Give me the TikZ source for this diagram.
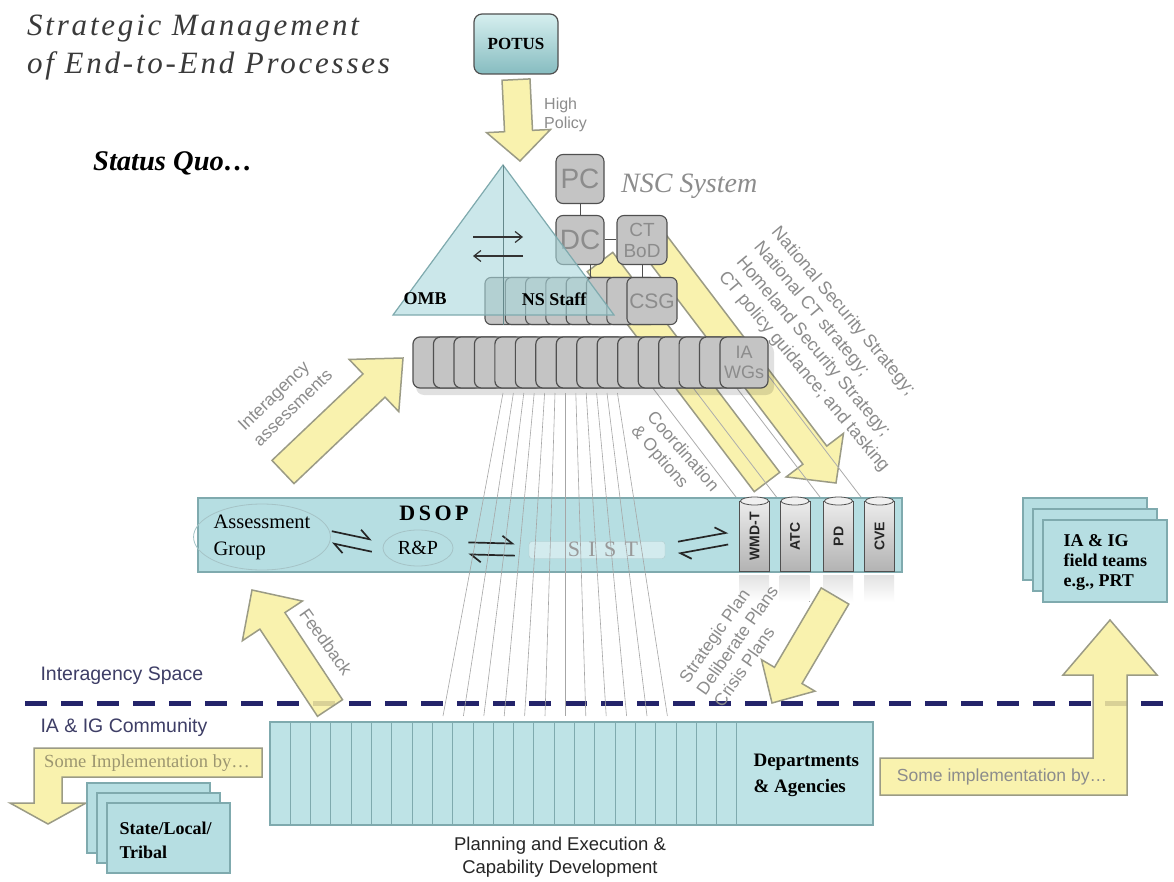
\documentclass[tikz,border=0pt]{standalone}
\usepackage{fontspec}
\setmainfont{Liberation Serif}
\setsansfont{Liberation Sans}
\usetikzlibrary{calc,arrows.meta,shapes.geometric}

\definecolor{tealfill}{HTML}{B6DEE2}
\definecolor{deptfill}{HTML}{BEE3E6}
\definecolor{trifill}{HTML}{A9D8DC}
\definecolor{tealline}{HTML}{7FAAAE}
\definecolor{boxgray}{HTML}{C4C4C4}
\definecolor{boxline}{HTML}{505050}
\definecolor{lblgray}{HTML}{8C8C8C}
\definecolor{ylw}{HTML}{F9F0A0}
\definecolor{ylwline}{HTML}{9B9B85}
\definecolor{navy}{HTML}{24246A}
\definecolor{spacetxt}{HTML}{3E3E66}
\definecolor{titlegray}{HTML}{3A3A3A}
\definecolor{olivetxt}{HTML}{9C9670}
\definecolor{potustop}{HTML}{D6EFEF}
\definecolor{potusbot}{HTML}{86BCC0}

\def\fsz#1#2{\fontsize{#1}{#2}\selectfont}
% block arrow: from, to, shaft half width, head half width, head length
\def\blockarrow#1#2#3#4#5{%
  \coordinate (hd) at ($(#2)!#5!(#1)$);
  \filldraw[yarrow] ($(#1)!#3!90:(#2)$) -- ($(hd)!#3!90:(#2)$) -- ($(hd)!#4!90:(#2)$)
    -- (#2) -- ($(hd)!#4!-90:(#2)$) -- ($(hd)!#3!-90:(#2)$) -- ($(#1)!#3!-90:(#2)$) -- cycle;}
% flat band: from, to, half width
\def\yband#1#2#3{%
  \filldraw[yarrow] ($(#1)!#3!90:(#2)$) -- ($(#2)!#3!-90:(#1)$)
    -- ($(#2)!#3!90:(#1)$) -- ($(#1)!#3!-90:(#2)$) -- cycle;}

\tikzset{
  yarrow/.style={fill=ylw, draw=ylwline, line width=1.5pt, fill opacity=.85},
  iadash/.style={draw=navy, line width=5pt, dash pattern=on 22pt off 14pt},
  titletxt/.style={font=\itshape\fsz{31}{34}\addfontfeature{LetterSpace=9}, text=titlegray, inner sep=0},
  potusbox/.style={rounded corners=8pt, top color=potustop, bottom color=potusbot, draw=boxline,
    line width=1.2pt, minimum width=84pt, minimum height=60pt, font=\bfseries\fsz{17}{17}},
  sanslbl/.style={font=\sffamily\fsz{17.5}{21}, text=lblgray},
  boldlbl/.style={font=\bfseries\fsz{18}{24}},
  nsbox/.style={rounded corners=6pt, fill=boxgray, draw=boxline, line width=1.1pt,
    minimum width=50pt, minimum height=47pt, inner sep=0},
  nscbox/.style={rounded corners=7pt, fill=boxgray, draw=boxline, line width=1.1pt,
    minimum width=48pt, minimum height=49pt, inner sep=0, font=\sffamily\fsz{28}{28}, text=lblgray},
  wgbox/.style={rounded corners=7pt, fill=boxgray, draw=boxline, line width=1.2pt,
    minimum width=48pt, minimum height=51pt, inner sep=0},
  ombtri/.style={fill=trifill, fill opacity=.6, draw=tealline, line width=1.2pt},
  swap/.style={draw=black!80, line width=1.2pt, -{Straight Barb[length=7pt,width=11pt]}},
  harp/.style={draw=black!85, line width=1.7pt, -{Straight Barb[left,length=10pt,width=15pt]}},
  dsopbar/.style={fill=tealfill, draw=tealline, line width=1.3pt, minimum width=704pt,
    minimum height=74pt, inner sep=0},
  agell/.style={ellipse, draw=tealline!70, line width=.8pt, minimum width=118pt,
    minimum height=66pt, inner sep=0, font=\fsz{20.5}{27}},
  rpell/.style={ellipse, draw=tealline!70, line width=.8pt, minimum width=70pt,
    minimum height=36pt, inner sep=0, font=\fsz{20}{20}},
  sistbox/.style={rounded corners=3pt, draw=tealline!60, fill=tealfill!60!white,
    minimum width=136pt, minimum height=17pt, inner sep=0},
  pillar/.style={draw=boxline, top color=gray!15, bottom color=gray!60, line width=1pt,
    minimum width=30pt, minimum height=70pt, inner sep=0,
    font=\sffamily\bfseries\fsz{14}{14}, text=black!85},
  pillartop/.style={draw=boxline, fill=gray!12, line width=.8pt},
  mirror/.style={top color=gray!22, bottom color=white},
  pline/.style={draw=gray!65, line width=.8pt},
  fanline/.style={draw=gray!70, line width=.6pt},
  deptbox/.style={fill=deptfill, draw=tealline, line width=1.3pt, minimum width=603pt,
    minimum height=103pt, inner sep=0},
  deptline/.style={draw=tealline, line width=1pt},
  stackbox/.style={fill=tealfill, draw=tealline, line width=1.3pt, minimum width=124pt,
    minimum height=82pt, inner sep=0},
  spacelbl/.style={font=\sffamily\fsz{19.5}{19.5}, text=spacetxt},
}

\begin{document}
\begin{tikzpicture}[x=1pt,y=-1pt]
\fill[white] (0,0) rectangle (1174,882);
\useasboundingbox (0,0) rectangle (1174,882);

% interagency space / community divide
\coordinate (dashl) at (25,703);
\coordinate (dashr) at (1174,703);
\draw[iadash] (dashl) -- (dashr);

% headings
\node[titletxt, anchor=base west] (title1) at (27,36) {Strategic Management};
\node[titletxt, anchor=base west] (title2) at (27,74) {of End-to-End Processes};
\node[font=\bfseries\itshape\fsz{28.5}{32}, anchor=base west, inner sep=0] (status) at (93,171) {Status Quo…};

% POTUS
\node[potusbox] (potus) at (516,44) {POTUS};
\coordinate (hpa) at ([yshift=-5pt]potus.south);
\coordinate (hpb) at (520,161);
\blockarrow{hpa}{hpb}{14pt}{32pt}{30pt}
\node[sanslbl, font=\sffamily\fsz{16}{19}, align=left, anchor=west, inner sep=0] (hplbl) at (544,115) {High\\Policy};

% flows behind the NSC boxes
\coordinate (cooa) at (600,262);
\coordinate (coob) at (767,482);
\yband{cooa}{coob}{16pt}
\coordinate (nssa) at (649,237);
\coordinate (nssb) at (836,483);
\blockarrow{nssa}{nssb}{15pt}{36pt}{35pt}

\coordinate (wmd-tl) at (739,501);
\coordinate (atc-tl) at (779.5,501);
\coordinate (pd-tl) at (823,501);
\coordinate (cve-tl) at (864,501);
\coordinate (pl1) at (639,370);
\coordinate (pl2) at (679.5,370);
\coordinate (pl3) at (723,370);
\coordinate (pl4) at (764,370);
\foreach \a/\b in {pl1/wmd-tl, pl2/atc-tl, pl3/pd-tl, pl4/cve-tl}
  \draw[pline] (\a) -- (\b);

% NSC system
\foreach \i in {0,...,6}
  \node[nsbox] (ns\i) at (510+20.3*\i,301) {};
\node[nsbox, font=\sffamily\fsz{21}{21}, text=lblgray] (csg) at (652,301) {CSG};
\node[nscbox] (pc) at (580,179) {PC};
\node[nscbox] (dc) at (580,240) {DC};
\node[nscbox, font=\sffamily\fsz{19}{21}, align=center, minimum width=50pt] (ctbod) at (642,240) {CT\\BoD};
\draw[boxline, line width=1pt] (pc) -- (dc);
\draw[boxline, line width=1pt] (dc) -- (ctbod);
\draw[boxline, line width=1pt] (ctbod.south) -- (ctbod.south |- csg.north);
\coordinate (dcfoot) at ([xshift=10pt]dc.south);
\draw[boxline, line width=1pt] (dcfoot) -- (dcfoot |- ns0.north);
\node[font=\itshape\fsz{28}{30}, text=lblgray, anchor=west, inner sep=0] (nsc) at (621,186) {NSC System};

% OMB triangle
\coordinate (omba) at (503,165);
\coordinate (ombl) at (393,315);
\coordinate (ombr) at (614,315);
\coordinate (ombfoot) at (503,325);
\filldraw[ombtri] (omba) -- (ombl) -- (ombr) -- cycle;
\draw[tealline!80!black, line width=1pt] (omba) -- (ombfoot);
\coordinate (swl) at (473,237);
\coordinate (swr) at (523,237);
\draw[swap] (swl) -- (swr);
\draw[swap] ([yshift=-19pt]swr) -- ([yshift=-19pt]swl);
\node[boldlbl] (omb) at (425,299) {OMB};
\node[boldlbl] (nsstaff) at (554,299) {NS Staff};

% IA WGs
\fill[black, opacity=.12, rounded corners=8pt] (416,344) rectangle (774,395);
\foreach \i in {0,...,14}
  \node[wgbox] (wg\i) at (437+20.47*\i,362.5) {};
\node[wgbox, font=\sffamily\fsz{18}{20}, text=lblgray, align=center] (iawg) at (744,362.5) {IA\\WGs};

% interagency assessments
\coordinate (iaa) at (283,472);
\coordinate (iab) at (403,358);
\blockarrow{iaa}{iab}{16pt}{36pt}{40pt}
\node[sanslbl, font=\sffamily\fsz{17.5}{22}, rotate=44, align=left] (ialbl) at (285,400) {Interagency\\assessments};

% DSOP
\node[dsopbar] (dsop) at (550,535) {};
\node[agell, align=left] (ag) at (262,537) {Assessment\\Group};
\node[font=\bfseries\fsz{22}{22}\addfontfeature{LetterSpace=16}] (dsoplbl) at (434,513) {DSOP};
\node[rpell] (rp) at (418,548) {R\&P};
\node[sistbox] (sist) at (597,550) {};
\node[font=\fsz{22}{22}\addfontfeature{LetterSpace=38}, text=gray!80] (sistlbl) at (603,549) {SIST};
\foreach \p/\t in {wmd/WMD-T, atc/ATC, pd/PD, cve/CVE} {
  \fill[mirror] ([yshift=-3pt]\p-tl |- dsop.south) rectangle ++(30,26);
  \node[pillar, anchor=north west] (\p) at (\p-tl) {\rotatebox{90}{\t}};
  \draw[pillartop] (\p.north) ellipse [x radius=14pt, y radius=4pt];
}
\draw[harp, shorten <=1pt, shorten >=11pt] ([yshift=6pt]ag.east) -- ([yshift=6pt]rp.west);
\draw[harp, shorten <=11pt, shorten >=1pt] ([yshift=-6pt]rp.west) -- ([yshift=-6pt]ag.east);
\draw[harp, shorten <=15pt, shorten >=14pt] ([yshift=6pt]rp.east) -- ([yshift=6pt]sist.west);
\draw[harp, shorten <=14pt, shorten >=15pt] ([yshift=-6pt]sist.west) -- ([yshift=-6pt]rp.east);
\draw[harp, shorten <=13pt, shorten >=11pt] ([yshift=6pt]sist.east) -- ([yshift=6pt]wmd.west);
\draw[harp, shorten <=11pt, shorten >=13pt] ([yshift=-6pt]wmd.west) -- ([yshift=-6pt]sist.east);

% IA WGs to departments
\foreach \i in {0,...,11} {
  \coordinate (ft\i) at (503+10.4*\i,393);
  \coordinate (fb\i) at (443+20.4*\i,716);
  \draw[fanline] (ft\i) -- (fb\i);
}

% guidance texts
\node[sanslbl, rotate=-49, anchor=north west, align=left, inner sep=0] (coolbl) at (656,409) {Coordination\\\& Options};
\node[sanslbl, font=\sffamily\fsz{18}{23}, rotate=-50, anchor=north west, align=left, inner sep=0] (nsslbl) at (781,224)
  {National Security Strategy;\\National CT strategy;\\Homeland Security Strategy;\\CT policy guidance; and tasking};

% feedback and plans
\coordinate (fba) at (330,708);
\coordinate (fbb) at (252,590);
\blockarrow{fba}{fbb}{15pt}{36pt}{37pt}
\node[sanslbl, rotate=-54.5] (fblbl) at (326,642) {Feedback};
\coordinate (spa) at (835,596);
\coordinate (spb) at (772,703);
\blockarrow{spa}{spb}{16pt}{31pt}{32pt}
\node[sanslbl, rotate=55, align=left] (splbl) at (737,640) {Strategic Plan\\Deliberate Plans\\Crisis Plans};

% departments and agencies
\node[deptbox] (dept) at (571.5,773.5) {};
\foreach \i in {1,...,23}
  \draw[deptline] (270+20.3*\i,722) -- (270+20.3*\i,825);
\node[boldlbl, align=left, anchor=west, font=\bfseries\fsz{19}{26}] (deptlbl) at (750,775) {Departments\\\& Agencies};
\node[font=\sffamily\fsz{18.5}{23}, align=center, text=black!85] (plan) at (560,857) {Planning and Execution \&\\Capability Development};

% field teams
\filldraw[yarrow] (880,758) -- (1093,758) -- (1093,675) -- (1063,675) -- (1110,620) -- (1157,675)
  -- (1127,675) -- (1127,795) -- (880,795) -- cycle;
\node[sanslbl] (rimpl) at (1002,777) {Some implementation by…};
\node[stackbox] (fteam1) at (1085,539) {};
\node[stackbox] (fteam2) at (1095,550) {};
\node[stackbox] (fteam3) at (1105,561) {};
\node[boldlbl, align=left, anchor=west, font=\bfseries\fsz{18}{20}] (fteamlbl) at (1060,562) {IA \& IG\\field teams\\e.g., PRT};

% state / local / tribal
\filldraw[yarrow] (262,748) -- (34,748) -- (34,803) -- (10,803) -- (48,824) -- (86,803)
  -- (62,803) -- (62,777) -- (262,777) -- cycle;
\node[font=\fsz{18.5}{20}, text=olivetxt] (limpl) at (147,763) {Some Implementation by…};
\node[stackbox, minimum width=123pt, minimum height=70pt] (slt1) at (148.5,818) {};
\node[stackbox, minimum width=123pt, minimum height=70pt] (slt2) at (158.5,828) {};
\node[stackbox, minimum width=123pt, minimum height=70pt] (slt3) at (168.5,838) {};
\node[boldlbl, align=left, anchor=west] (sltlbl) at (116,840) {State/Local/\\Tribal};

% space labels
\node[spacelbl, anchor=west] (iaspace) at (37,676) {Interagency Space};
\node[spacelbl, anchor=west] (iacomm) at (37,727) {IA \& IG Community};
\end{tikzpicture}
\end{document}
